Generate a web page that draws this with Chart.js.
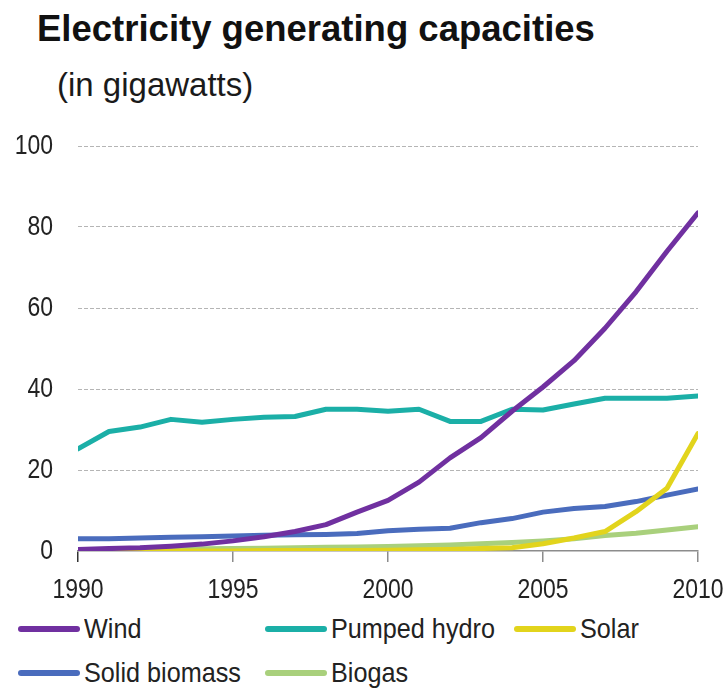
<!DOCTYPE html>
<html>
<head>
<meta charset="utf-8">
<script src="https://cdn.jsdelivr.net/npm/chart.js@4.4.1/dist/chart.umd.min.js"></script>
<style>
  body { margin: 0; background: #fff; }
  #wrap { position: relative; width: 728px; height: 689px; overflow: hidden; font-family: "Liberation Sans", Arial, sans-serif; color: #111; }
  #title { position: absolute; left: 37px; top: 8px; font-size: 36.5px; font-weight: bold; white-space: nowrap; }
  #subtitle { position: absolute; left: 57px; top: 66px; font-size: 33px; white-space: nowrap; color: #1a1a1a; }
  #chartBox { position: absolute; left: 0; top: 120px; width: 728px; height: 480px; }
  .leg { position: absolute; display: flex; align-items: center; font-size: 28px; color: #222; white-space: nowrap; }
  .leg span.ln { display: inline-block; width: 62px; height: 6px; border-radius: 3px; margin-right: 4px; flex: none; }
  .leg span.tx { display: inline-block; transform: scaleX(0.9); transform-origin: left center; }
</style>
</head>
<body>
<div id="wrap">
  <div id="title">Electricity generating capacities</div>
  <div id="subtitle">(in gigawatts)</div>
  <div id="chartBox"><canvas id="capChart"></canvas></div>
  <div id="legend"></div>
</div>
<script>
const years = [1990, 1991, 1992, 1993, 1994, 1995, 1996, 1997, 1998, 1999, 2000,
               2001, 2002, 2003, 2004, 2005, 2006, 2007, 2008, 2009, 2010];
const wind = [0.4, 0.6, 0.8, 1.2, 1.7, 2.5, 3.5, 4.8, 6.5, 9.6, 12.5,
              17, 23, 28, 34.5, 40.5, 47, 55, 64, 74, 83.5];
const pumpedHydro = [25.2, 29.5, 30.6, 32.5, 31.8, 32.5, 33, 33.2, 35, 35, 34.5,
                     35, 32, 32, 35, 34.8, 36.3, 37.7, 37.7, 37.7, 38.3];
const solar = [0, 0, 0, 0, 0, 0, 0.1, 0.1, 0.1, 0.1, 0.2,
               0.3, 0.4, 0.6, 0.8, 1.8, 3.2, 4.8, 9.7, 15.5, 29];
const solidBiomass = [3, 3, 3.2, 3.4, 3.5, 3.7, 3.9, 4, 4.1, 4.3, 5,
                      5.4, 5.6, 7, 8, 9.6, 10.5, 11, 12.2, 13.8, 15.3];
const biogas = [0.3, 0.35, 0.4, 0.5, 0.55, 0.6, 0.7, 0.8, 0.9, 1, 1.1,
                1.3, 1.5, 1.8, 2.1, 2.5, 3, 3.8, 4.4, 5.2, 6];
const xTicks = [1990, 1995, 2000, 2005, 2010];
const yTicks = [0, 20, 40, 60, 80, 100];

const series = [
    { label: 'Wind', values: wind, color: '#7030a0' },
    { label: 'Pumped hydro', values: pumpedHydro, color: '#1bafa7' },
    { label: 'Solar', values: solar, color: '#e2d41c' },
    { label: 'Solid biomass', values: solidBiomass, color: '#4a6cbd' },
    { label: 'Biogas', values: biogas, color: '#a9d07c' }
];

// legend spots, like the original two rows
const legendPos = [
    { left: 18, top: 613 },
    { left: 265, top: 613 },
    { left: 514, top: 613 },
    { left: 18, top: 657 },
    { left: 265, top: 657 }
];

const legend = document.getElementById('legend');
series.forEach((s, i) => {
    const d = document.createElement('div');
    d.className = 'leg';
    d.style.left = legendPos[i].left + 'px';
    d.style.top = legendPos[i].top + 'px';
    d.innerHTML = `<span class="ln" style="background:${s.color}"></span><span class="tx">${s.label}</span>`;
    legend.appendChild(d);
});

// tick labels in the original are a narrow face; squeeze the regular one
const narrowTicks = {
    id: 'narrowTicks',
    afterDraw(c) {
        const ctx = c.ctx;
        const xs = c.scales.x, ys = c.scales.y;
        const squeeze = 0.82;
        ctx.save();
        ctx.font = '28px "Liberation Sans", Arial, sans-serif';
        ctx.fillStyle = '#222';
        ctx.textBaseline = 'middle';
        ctx.textAlign = 'right';
        yTicks.forEach(v => {
            const py = ys.getPixelForValue(v);
            ctx.save();
            ctx.translate(ys.right - 25, py);
            ctx.scale(squeeze, 1);
            ctx.fillText(String(v), 0, 0);
            ctx.restore();
        });
        ctx.textBaseline = 'alphabetic';
        ctx.textAlign = 'center';
        xTicks.forEach(v => {
            const px = xs.getPixelForValue(v);
            ctx.save();
            ctx.translate(px, xs.top + 47);
            ctx.scale(squeeze, 1);
            ctx.fillText(String(v), 0, 0);
            ctx.restore();
        });
        ctx.restore();
    }
};

const chart = new Chart(document.getElementById('capChart'), {
    type: 'line',
    data: {
        datasets: series.map(s => ({
            label: s.label,
            data: years.map((y, i) => ({ x: y, y: s.values[i] })),
            borderColor: s.color,
            backgroundColor: s.color,
            borderWidth: 5,
            pointRadius: 0,
            tension: 0,
            borderCapStyle: 'round',
            borderJoinStyle: 'round'
        }))
    },
    options: {
        responsive: true,
        maintainAspectRatio: false,
        animation: false,
        layout: { padding: { top: 26, right: 30, left: 0, bottom: 0 } },
        plugins: {
            legend: { display: false },
            tooltip: { enabled: false }
        },
        scales: {
            x: {
                type: 'linear',
                min: 1990,
                max: 2010,
                afterBuildTicks: axis => { axis.ticks = xTicks.map(v => ({ value: v })); },
                afterFit: axis => { axis.height = 49; },
                ticks: { display: false },
                grid: {
                    drawOnChartArea: false,
                    drawTicks: true,
                    tickLength: 11,
                    color: ctx => ctx.tick && ctx.tick.value === 1990 ? '#333' : '#8c8c8c',
                    lineWidth: 1.5
                },
                border: { display: true, color: '#8c8c8c', width: 1.5 }
            },
            y: {
                min: 0,
                max: 100,
                afterBuildTicks: axis => { axis.ticks = yTicks.map(v => ({ value: v })); },
                afterFit: axis => { axis.width = 78; },
                ticks: { display: false },
                grid: {
                    drawTicks: false,
                    color: ctx => ctx.tick && ctx.tick.value === 0 ? 'rgba(0,0,0,0)' : '#b5b5b5',
                    lineWidth: 1
                },
                border: { display: false, dash: [4, 2] }
            }
        }
    },
    plugins: [narrowTicks]
});
</script>
</body>
</html>
